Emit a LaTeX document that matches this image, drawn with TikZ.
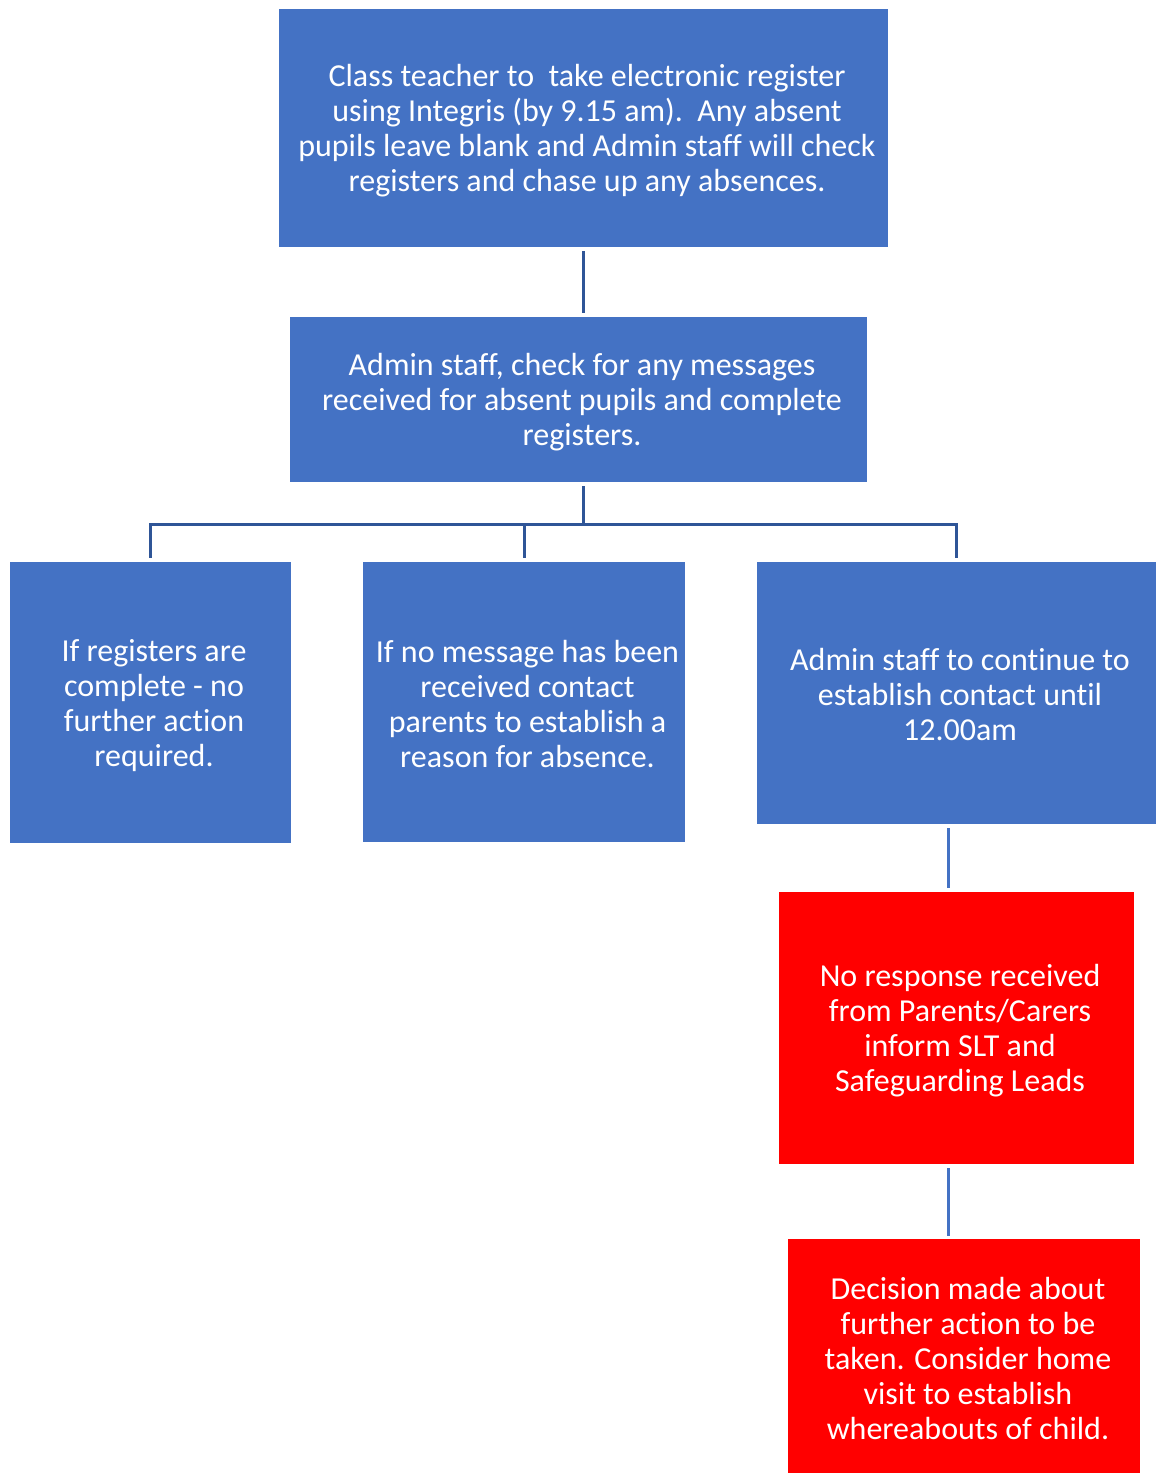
\documentclass[tikz,border=0pt]{standalone}
\usepackage{fontspec}
\setmainfont{Carlito}[Ligatures=NoCommon]
\definecolor{boxblue}{HTML}{4472C4}
\definecolor{linedark}{HTML}{2F5597}
\definecolor{boxred}{HTML}{FF0000}
\begin{document}
\begin{tikzpicture}[x=1pt,y=-1pt,
  box/.style={rectangle, fill=boxblue, inner sep=0pt},
  redbox/.style={box, fill=boxred},
  txt/.style={text=white, align=center, inner sep=0pt,
    font=\fontsize{32}{35}\selectfont},
  conn/.style={draw=linedark, line width=3pt},
  conn2/.style={draw=boxblue, line width=3pt}]
\useasboundingbox (0,0) rectangle (1156,1473);
\node[box, minimum width=609pt, minimum height=238pt] (b1) at (583.5,128) {};
\node[txt] (t1) at ([xshift=3.5pt,yshift=-3pt]b1.center)
  {Class teacher to\ \ take electronic register\\using Integris (by 9.15 am).\ \ Any absent\\pupils leave blank and Admin staff will check\\registers and chase up any absences.};
\node[box, minimum width=577pt, minimum height=165pt] (b2) at (578.5,399.5) {};
\node[txt] (t2) at ([xshift=3.5pt,yshift=-3pt]b2.center)
  {Admin staff, check for any messages\\received for absent pupils and complete\\registers.};
\node[box, minimum width=281pt, minimum height=281pt] (b3) at (150.5,702.5) {};
\node[txt] (t3) at ([xshift=3.5pt,yshift=-3pt]b3.center)
  {If registers are\\complete - no\\further action\\required.};
\node[box, minimum width=322pt, minimum height=280pt] (b4) at (524,702) {};
\node[txt] (t4) at ([xshift=3.5pt,yshift=-2pt]b4.center)
  {If no message has been\\received contact\\parents to establish a\\reason for absence.};
\node[box, minimum width=399pt, minimum height=262pt] (b5) at (956.5,693) {};
\node[txt] (t5) at ([xshift=3.5pt,yshift=-2pt]b5.center)
  {Admin staff to continue to\\establish contact until\\12.00am};
\node[redbox, minimum width=355pt, minimum height=272pt] (r1) at (956.5,1028) {};
\node[txt] (t6) at ([xshift=3.5pt,yshift=-3pt]r1.center)
  {No response received\\from Parents/Carers\\inform SLT and\\Safeguarding Leads};
\node[redbox, minimum width=352pt, minimum height=234pt, anchor=north] (r2) at (964,1239) {};
\node[txt] (t7) at (968,1358)
  {Decision made about\\further action to be\\taken. Consider home\\visit to establish\\whereabouts of child.};
\coordinate (j) at (583,524);
\draw[conn, shorten <=4pt, shorten >=4pt] (b1.south -| 583,0) -- (b2.north -| 583,0);
\draw[conn, shorten <=4pt] (b2.south -| j) -- (j);
\draw[conn, shorten >=4pt] (j) -| (b3.north);
\draw[conn, shorten >=4pt] (j) -| (b4.north);
\draw[conn, shorten >=4pt] (j) -| (b5.north);
\draw[conn2, shorten <=4pt, shorten >=4pt] ([xshift=-8.5pt]b5.south) -- ([xshift=-8.5pt]b5.south |- r1.north);
\draw[conn2, shorten <=4pt, shorten >=3pt] ([xshift=-8.5pt]r1.south) -- ([xshift=-8.5pt]r1.south |- r2.north);
\end{tikzpicture}
\end{document}
